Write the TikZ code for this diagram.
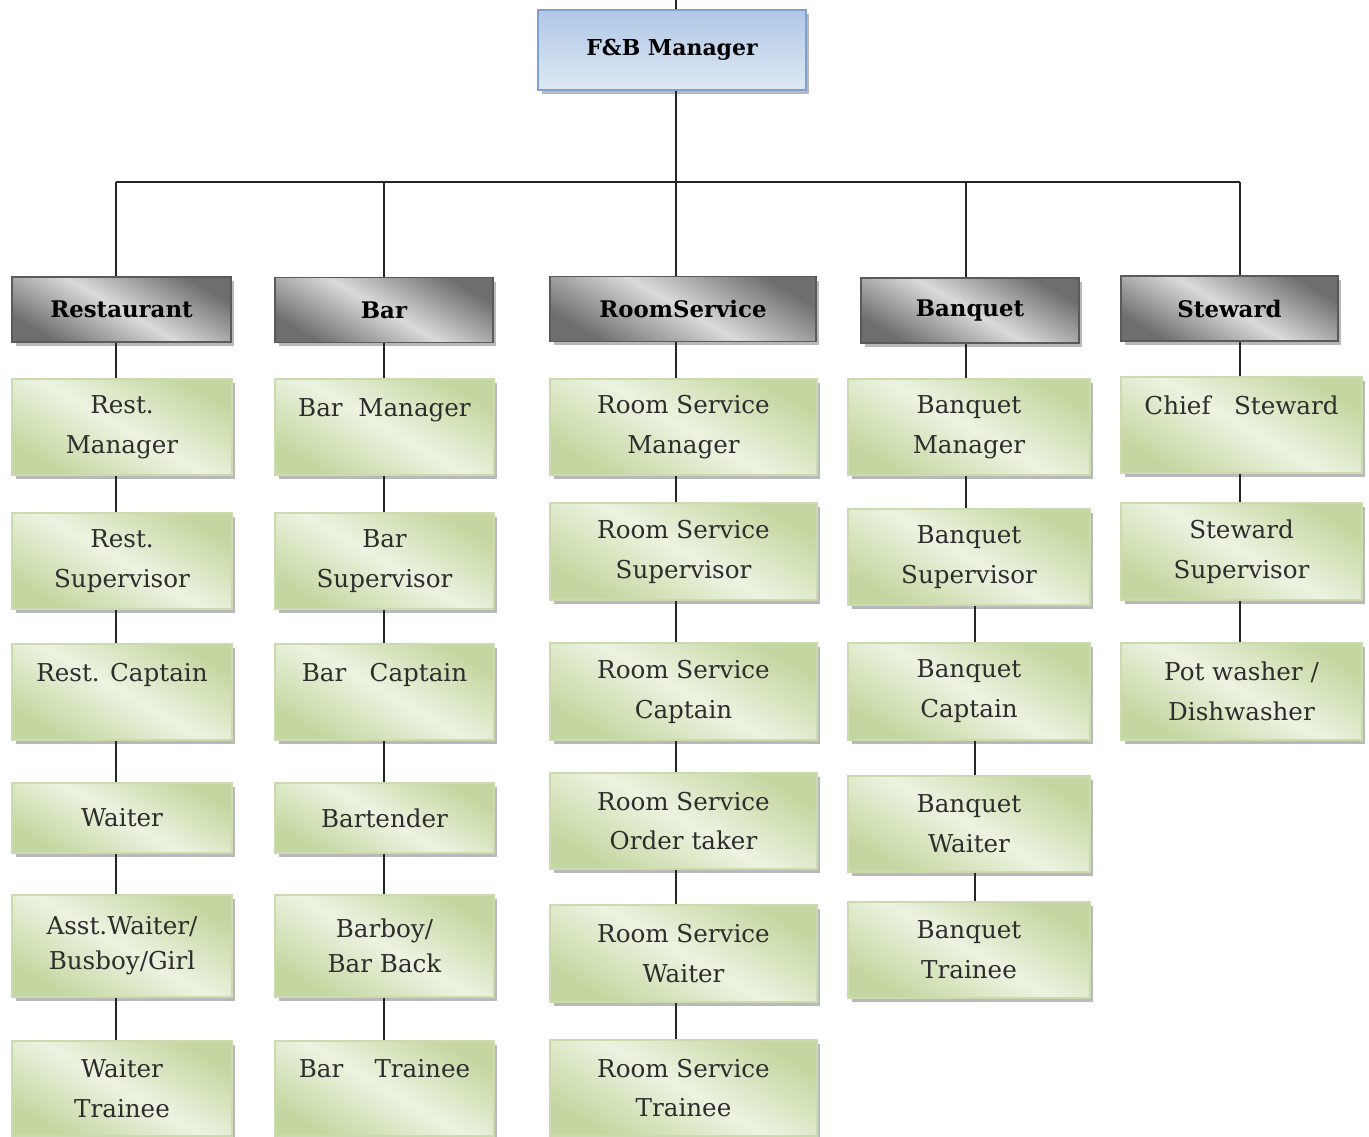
\documentclass[tikz,border=0pt]{standalone}
\usepackage{fontspec}
\setmainfont{DejaVu Serif}
\usetikzlibrary{positioning, shadows}

\definecolor{gdark}{RGB}{196,215,160}
\definecolor{glight}{RGB}{236,243,225}
\definecolor{gborder}{RGB}{204,218,176}
\definecolor{hdark}{RGB}{110,110,110}
\definecolor{hlight}{RGB}{218,218,218}
\definecolor{hborder}{RGB}{90,90,90}
\definecolor{fbtop}{RGB}{176,200,230}
\definecolor{fbbot}{RGB}{222,232,244}
\definecolor{fbborder}{RGB}{130,160,205}
\definecolor{textgray}{RGB}{45,45,45}

\begin{document}
\begin{tikzpicture}[x=0.02cm, y=-0.02cm,
  shadowed/.style={drop shadow={shadow xshift=0.07cm, shadow yshift=-0.08cm, fill=black!50, opacity=0.55}},
  role/.style={shadowed, draw=gborder, line width=0.8pt, top color=gdark, bottom color=gdark, middle color=glight,
    shading angle=-30, text=textgray, align=center, inner sep=2pt, font=\fontsize{14}{22.7}\selectfont},
  dept/.style={shadowed, draw=hborder, line width=1pt, top color=hdark, bottom color=hdark, middle color=hlight,
    shading angle=-30, text=black, font=\fontsize{13}{15}\selectfont\bfseries, minimum height=1.3cm},
  head/.style={shadowed, draw=fbborder, line width=1pt, top color=fbtop, bottom color=fbbot,
    text=black, font=\fontsize{12.5}{15}\selectfont\bfseries, minimum width=5.36cm, minimum height=1.6cm},
  link/.style={draw=black!85, line width=1.1pt}]
  \useasboundingbox (0,0) rectangle (1369,1136);

  % column lines and bus
  \coordinate (top) at (676,0);
  \coordinate (bus) at (0,182);
  \coordinate (x1) at (116,0);
  \coordinate (x2) at (384,0);
  \coordinate (x3) at (676,0);
  \coordinate (x4) at (966,0);
  \coordinate (x4b) at (975,0);
  \coordinate (x5) at (1240,0);

  \node[head] (fb) at (672,50) {F\&B Manager};

  \node[dept, minimum width=4.38cm] (rest) at (121.5,309.5) {Restaurant};
  \node[dept, minimum width=4.36cm] (bar) at (384,310) {Bar};
  \node[dept, minimum width=5.32cm] (room) at (683,309) {RoomService};
  \node[dept, minimum width=4.36cm] (banq) at (970,310.5) {Banquet};
  \node[dept, minimum width=4.34cm] (stew) at (1229.5,308.5) {Steward};

  % restaurant
  \node[role, minimum width=4.4cm, minimum height=1.92cm] (r1) at (122,427) {Rest.\\Manager};
  \node[role, minimum width=4.4cm, minimum height=1.92cm] (r2) at (122,561) {Rest.\\Supervisor};
  \node[role, minimum width=4.4cm, minimum height=1.92cm] (r3) at (122,692) {Rest. Captain\\\mbox{}};
  \node[role, minimum width=4.4cm, minimum height=1.4cm] (r4) at (122,818) {Waiter};
  \node[role, minimum width=4.4cm, minimum height=2.04cm, font=\fontsize{14}{19.8}\selectfont] (r5) at (122,946) {Asst.Waiter/\\Busboy/Girl};
  \node[role, minimum width=4.4cm, minimum height=1.9cm] (r6) at (122,1088.5) {Waiter\\Trainee};

  % bar
  \node[role, minimum width=4.38cm, minimum height=1.92cm] (b1) at (384.5,427) {Bar\ \ Manager\\\mbox{}};
  \node[role, minimum width=4.38cm, minimum height=1.92cm] (b2) at (384.5,561) {Bar\\Supervisor};
  \node[role, minimum width=4.38cm, minimum height=1.92cm] (b3) at (384.5,692) {Bar\ \ \ Captain\\\mbox{}};
  \node[role, minimum width=4.38cm, minimum height=1.4cm] (b4) at (384.5,818) {Bartender};
  \node[role, minimum width=4.38cm, minimum height=2.04cm, font=\fontsize{14}{19.8}\selectfont] (b5) at (384.5,946) {Barboy/\\Bar Back};
  \node[role, minimum width=4.38cm, minimum height=1.9cm] (b6) at (384.5,1088.5) {Bar\ \ \ \ Trainee\\\mbox{}};

  % room service
  \node[role, minimum width=5.34cm, minimum height=1.92cm] (s1) at (683.5,427) {Room Service\\Manager};
  \node[role, minimum width=5.34cm, minimum height=1.94cm] (s2) at (683.5,551.5) {Room Service\\Supervisor};
  \node[role, minimum width=5.34cm, minimum height=1.94cm] (s3) at (683.5,691.5) {Room Service\\Captain};
  \node[role, minimum width=5.34cm, minimum height=1.92cm] (s4) at (683.5,821) {Room Service\\Order taker};
  \node[role, minimum width=5.34cm, minimum height=1.94cm] (s5) at (683.5,953.5) {Room Service\\Waiter};
  \node[role, minimum width=5.34cm, minimum height=1.92cm] (s6) at (683.5,1088) {Room Service\\Trainee};

  % banquet
  \node[role, minimum width=4.84cm, minimum height=1.92cm] (q1) at (969,427) {Banquet\\Manager};
  \node[role, minimum width=4.84cm, minimum height=1.92cm] (q2) at (969,557) {Banquet\\Supervisor};
  \node[role, minimum width=4.84cm, minimum height=1.94cm] (q3) at (969,691.5) {Banquet\\Captain};
  \node[role, minimum width=4.84cm, minimum height=1.92cm] (q4) at (969,824) {Banquet\\Waiter};
  \node[role, minimum width=4.84cm, minimum height=1.92cm] (q5) at (969,950) {Banquet\\Trainee};

  % steward
  \node[role, minimum width=4.82cm, minimum height=1.92cm] (w1) at (1241.5,425) {Chief\ \ \ Steward\\\mbox{}};
  \node[role, minimum width=4.82cm, minimum height=1.94cm] (w2) at (1241.5,551.5) {Steward\\Supervisor};
  \node[role, minimum width=4.82cm, minimum height=1.94cm] (w3) at (1241.5,691.5) {Pot washer /\\Dishwasher};

  % connectors
  \draw[link] (top) -- (fb.north -| top);
  \draw[link] (fb.south -| x3) -- (bus -| x3);
  \draw[link] (bus -| x1) -- (bus -| x5);
  \foreach \c/\d in {x1/rest, x2/bar, x3/room, x4/banq, x5/stew}
    \draw[link] (bus -| \c) -- (\d.north -| \c);
  \foreach \a/\b in {rest/r1, r1/r2, r2/r3, r3/r4, r4/r5, r5/r6}
    \draw[link] (\a.south -| x1) -- (\b.north -| x1);
  \foreach \a/\b in {bar/b1, b1/b2, b2/b3, b3/b4, b4/b5, b5/b6}
    \draw[link] (\a.south -| x2) -- (\b.north -| x2);
  \foreach \a/\b in {room/s1, s1/s2, s2/s3, s3/s4, s4/s5, s5/s6}
    \draw[link] (\a.south -| x3) -- (\b.north -| x3);
  \foreach \a/\b in {banq/q1, q1/q2}
    \draw[link] (\a.south -| x4) -- (\b.north -| x4);
  \foreach \a/\b in {q2/q3, q3/q4, q4/q5}
    \draw[link] (\a.south -| x4b) -- (\b.north -| x4b);
  \foreach \a/\b in {stew/w1, w1/w2, w2/w3}
    \draw[link] (\a.south -| x5) -- (\b.north -| x5);
\end{tikzpicture}
\end{document}
